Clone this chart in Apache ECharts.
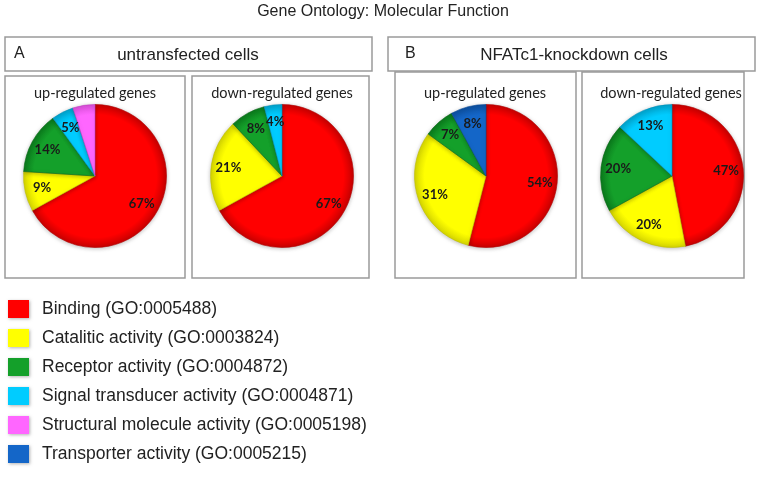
<!DOCTYPE html>
<html><head><meta charset="utf-8">
<script src="https://cdn.jsdelivr.net/npm/echarts@6/dist/echarts.min.js"></script>
<style>html,body{margin:0;padding:0;background:#fff}#c{width:767px;height:477px}</style>
</head><body><div id="c"></div>
<script>
const categories = [
  'Binding (GO:0005488)',
  'Catalitic activity (GO:0003824)',
  'Receptor activity (GO:0004872)',
  'Signal transducer activity (GO:0004871)',
  'Structural molecule activity (GO:0005198)',
  'Transporter activity (GO:0005215)'
];
const colors = ['#FF0000', '#FFFF00', '#14A02A', '#00CCFF', '#FF66FF', '#1466C8'];
const edgeColors = ['#C80000', '#D6D600', '#0B7A1C', '#00A3CC', '#D94FD9', '#0D4F9E'];
const borderColors = ['#B00000', '#BDBD00', '#0A6A18', '#0090BB', '#C040C0', '#0A4A99'];

const untransfectedUp = [67, 9, 14, 5, 5, 0];
const untransfectedDown = [67, 21, 8, 4, 0, 0];
const knockdownUp = [54, 31, 7, 0, 0, 8];
const knockdownDown = [47, 20, 20, 13, 0, 0];

const title = 'Gene Ontology: Molecular Function';
const panelTitles = ['untransfected cells', 'NFATc1-knockdown cells'];
const panelLetters = ['A', 'B'];
const subTitles = ['up-regulated genes', 'down-regulated genes'];

const pies = [
  {vals: untransfectedUp, center: [95, 176]},
  {vals: untransfectedDown, center: [282, 176]},
  {vals: knockdownUp, center: [486, 176]},
  {vals: knockdownDown, center: [672, 176]}
];
const R = 71.5;

function buildData(vals, center, withColor) {
  const out = [];
  vals.forEach((v, i) => {
    if (v > 0) out.push({
      name: categories[i], value: v,
      itemStyle: withColor ? {
        color: {type: 'radial', x: center[0], y: center[1], r: R, global: true,
          colorStops: [{offset: 0, color: colors[i]}, {offset: 0.86, color: colors[i]}, {offset: 1, color: edgeColors[i]}]},
        borderColor: borderColors[i], borderWidth: 0.6
      } : {color: 'rgba(0,0,0,0)', borderWidth: 0}
    });
  });
  return out;
}

const series = [];
pies.forEach(p => {
  series.push({
    type: 'pie', center: p.center, radius: [0, R], startAngle: 90, clockwise: true,
    label: {show: false}, labelLine: {show: false}, silent: true,
    emphasis: {disabled: true},
    itemStyle: {shadowBlur: 4, shadowColor: 'rgba(0,0,0,0.25)', shadowOffsetY: 1},
    data: buildData(p.vals, p.center, true), animation: false
  });
});
pies.forEach(p => {
  series.push({
    type: 'pie', center: p.center, radius: [31, R], startAngle: 90, clockwise: true,
    silent: true, emphasis: {disabled: true},
    label: {show: true, position: 'inside', formatter: '{c}%', fontFamily: 'Lato', fontWeight: 'bold', fontSize: 13, color: '#1a1a1a'},
    labelLine: {show: false},
    data: buildData(p.vals, p.center, false), animation: false
  });
});

const boxStyle = {fill: 'none', stroke: '#9a9a9a', lineWidth: 1.5};
const graphic = [
  {type: 'rect', shape: {x: 5, y: 37, width: 367, height: 34}, style: boxStyle},
  {type: 'rect', shape: {x: 388, y: 37, width: 367, height: 34}, style: boxStyle},
  {type: 'rect', shape: {x: 5, y: 76, width: 180, height: 202}, style: boxStyle},
  {type: 'rect', shape: {x: 192, y: 76, width: 177, height: 202}, style: boxStyle},
  {type: 'rect', shape: {x: 395, y: 72, width: 181, height: 206}, style: boxStyle},
  {type: 'rect', shape: {x: 582, y: 72, width: 162, height: 206}, style: boxStyle},
  {type: 'text', x: 383, y: 12, style: {text: title, font: '16px "Liberation Sans"', fill: '#222', textAlign: 'center', textVerticalAlign: 'middle'}},
  {type: 'text', x: 14, y: 54, style: {text: panelLetters[0], font: '16px "Liberation Sans"', fill: '#222', textVerticalAlign: 'middle'}},
  {type: 'text', x: 188, y: 55, style: {text: panelTitles[0], font: '17px "Liberation Sans"', fill: '#222', textAlign: 'center', textVerticalAlign: 'middle'}},
  {type: 'text', x: 405, y: 54, style: {text: panelLetters[1], font: '16px "Liberation Sans"', fill: '#222', textVerticalAlign: 'middle'}},
  {type: 'text', x: 574, y: 55, style: {text: panelTitles[1], font: '17px "Liberation Sans"', fill: '#222', textAlign: 'center', textVerticalAlign: 'middle'}}
];
const subPos = [[95, 93], [282, 93], [485, 93], [671, 93]];
subPos.forEach((s, i) => {
  graphic.push({type: 'text', x: s[0], y: s[1], style: {text: subTitles[i % 2], font: '14.5px Lato', fill: '#222', textAlign: 'center', textVerticalAlign: 'middle'}});
});

const chart = echarts.init(document.getElementById('c'), null, {renderer: 'canvas'});
chart.setOption({
  animation: false,
  legend: {
    orient: 'vertical', left: 8, top: 300, height: 170, itemWidth: 21, itemHeight: 18, itemGap: 11,
    icon: 'rect', selectedMode: false, padding: 0,
    itemStyle: {borderWidth: 0, shadowBlur: 3, shadowColor: 'rgba(0,0,0,0.3)', shadowOffsetX: 1, shadowOffsetY: 1},
    textStyle: {fontFamily: 'Liberation Sans', fontSize: 17.5, lineHeight: 18, color: '#222', padding: [0, 0, 0, 8]},
    data: categories.map((c, i) => ({name: c, itemStyle: {color: colors[i], borderWidth: 0}}))
  },
  graphic: graphic,
  series: series
});
</script></body></html>
